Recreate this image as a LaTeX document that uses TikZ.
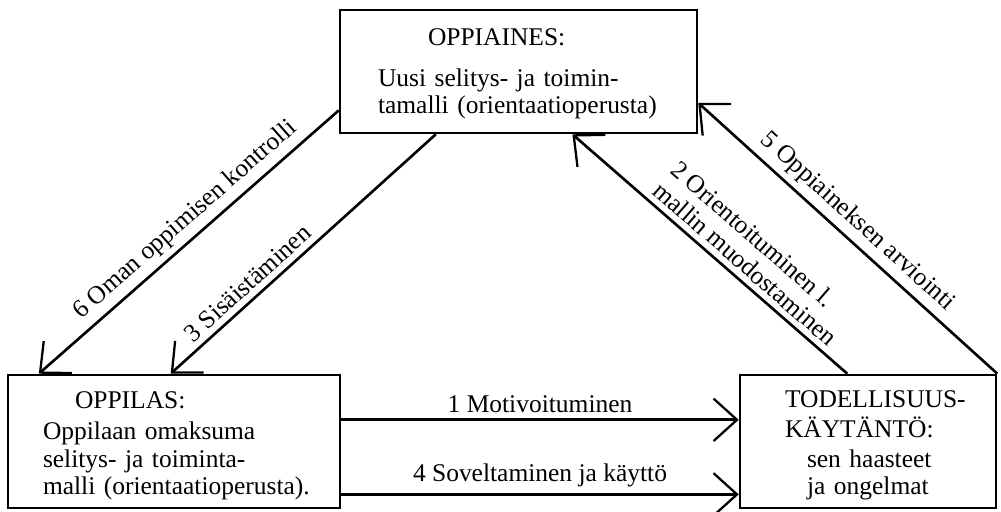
\documentclass[tikz,border=0pt]{standalone}
\usepackage{fontspec}
\setmainfont{Liberation Serif}
\usetikzlibrary{arrows.meta,calc,positioning}

\tikzset{
  box/.style={draw, line width=1.5pt, align=left, inner ysep=0pt},
  flow/.style={line width=1.5pt,
    -{Straight Barb[length=0.47cm,width=0.85cm,line width=1.3pt]}},
}

\begin{document}
\begin{tikzpicture}[x=0.02cm, y=-0.02cm, font=\fontsize{14.5}{15.6}\selectfont]
    \useasboundingbox (0,0) rectangle (1001,511);

    % Boxes.
    \node[box, text width=5.62cm, inner xsep=0.76cm, minimum height=2.46cm]
        (oppiaines) at (518.5,71.5)
        {\rule{0pt}{0.44cm}\hspace*{1.0cm}OPPIAINES:\\[0.27cm]
         Uusi selitys- ja toimin-\\
         \mbox{tamalli (orientaatioperusta)}};
    \node[box, text width=5.24cm, inner xsep=0.7cm, minimum height=2.66cm]
        (oppilas) at (174,441.5)
        {\rule{0pt}{0.52cm}\hspace*{0.64cm}OPPILAS:\\[0.07cm]
         Oppilaan omaksuma\\
         selitys- ja toiminta-\\
         \mbox{malli (orientaatioperusta).}};
    \node[box, text width=3.32cm, inner xsep=0.9cm, minimum height=2.66cm]
        (todellisuus) at (868,441.5)
        {\rule{0pt}{0.5cm}\mbox{TODELLISUUS-}\\[0.05cm]
         KÄYTÄNTÖ:\\[0.05cm]
         \hspace*{0.44cm}sen haasteet\\
         \hspace*{0.44cm}ja ongelmat};

    % Arrows between the boxes.
    \draw[flow] ($(oppiaines.south west)!0.19!(oppiaines.north west)$)
        -- node[pos=0.47, above, sloped] (l6) {6 Oman oppimisen kontrolli}
        ($(oppilas.north west)!0.096!(oppilas.north east)$);
    \draw[flow] ($(oppiaines.south west)!0.27!(oppiaines.south east)$)
        -- node[pos=0.67, above, sloped] (l3) {3 Sisäistäminen}
        ($(oppilas.north west)!0.49!(oppilas.north east)$);
    \draw[flow] ($(todellisuus.north west)!0.42!(todellisuus.north east)$)
        -- node[pos=0.41, above, sloped, align=left] (l2)
           {2 Orientoituminen l.\\mallin muodostaminen}
        ($(oppiaines.south west)!0.65!(oppiaines.south east)$);
    \draw[flow] (todellisuus.north east)
        -- node[pos=0.51, above, sloped] (l5) {5 Oppiaineksen arviointi}
        ($(oppiaines.south east)!0.25!(oppiaines.north east)$);
    \draw[flow] ($(oppilas.south east)!0.66!(oppilas.north east)$)
        -- node[above] (l1) {1 Motivoituminen}
        ($(todellisuus.south west)!0.66!(todellisuus.north west)$);
    \draw[flow] ($(oppilas.south east)!0.11!(oppilas.north east)$)
        -- node[above] (l4) {4 Soveltaminen ja käyttö}
        ($(todellisuus.south west)!0.11!(todellisuus.north west)$);
\end{tikzpicture}
\end{document}
